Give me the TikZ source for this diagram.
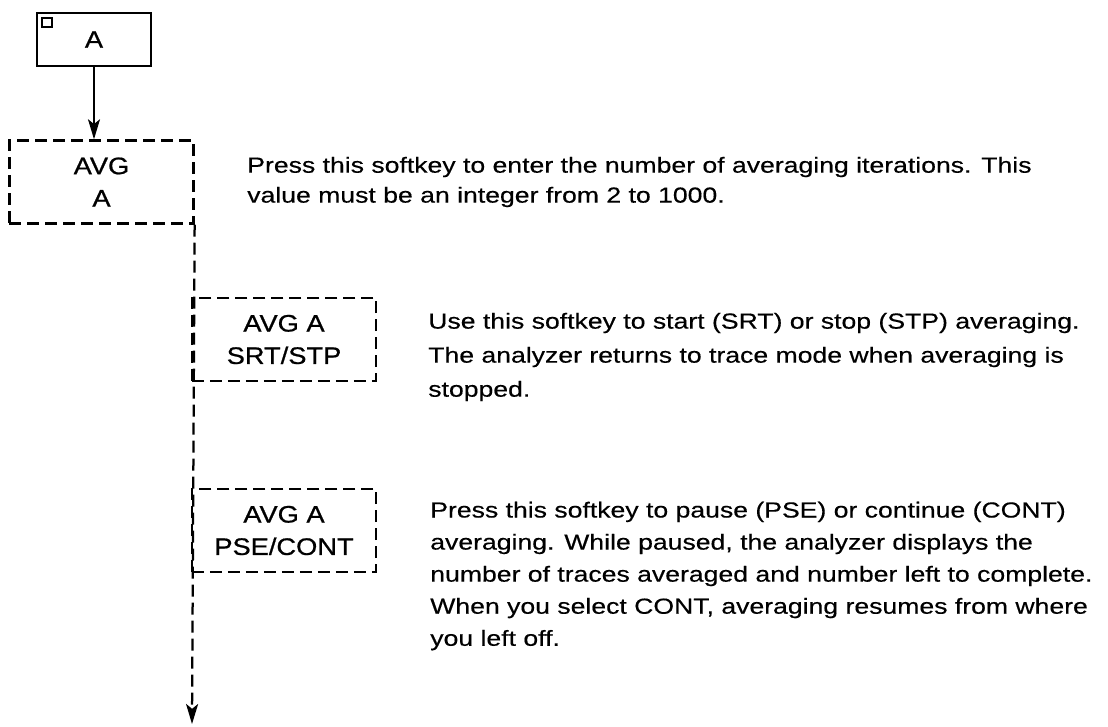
\documentclass[tikz,border=0pt]{standalone}
\usepackage{fontspec}
\setmainfont{Liberation Sans}
\newfontfamily\descfont{Liberation Sans}[FakeStretch=1.22,FakeBold=0.4]
\newfontfamily\keyfont{Liberation Sans}[FakeStretch=1.14,FakeBold=0.8]
\usetikzlibrary{arrows.meta,positioning}

\begin{document}
\begin{tikzpicture}[x=0.025cm,y=-0.025cm,
      font=\descfont\fontsize{15.5}{22.8}\selectfont,
      keybox/.style={draw,line width=1.9pt,minimum width=2.85cm,minimum height=1.325cm,inner sep=0pt,
                     font=\keyfont\fontsize{17}{24}\selectfont},
      softkey/.style={draw,dash pattern=on 8.5pt off 4.3pt,line width=1.6pt,align=center,
                      minimum width=4.6cm,minimum height=2.08cm,inner sep=0pt,
                      font=\keyfont\fontsize{17}{23}\selectfont},
      desc/.style={anchor=west,align=left,inner sep=0pt},
      arr/.style={-{Stealth[length=5mm,width=3mm,inset=1.2mm]},line width=1.3pt}]
    \useasboundingbox (0,0) rectangle (1108,726);
    % hardkey and its indicator
    \node[keybox] (akey) at (94,39.5) {A};
    \node[draw,line width=1.1pt,minimum width=0.25cm,minimum height=0.22cm,inner sep=0pt] (ind) at (47,22.5) {};
    % softkeys
    \node[softkey] (avg) at (101.5,182) {AVG\\A};
    \node[softkey] (srt) at (284,339.5) {AVG A\\SRT/STP};
    \node[softkey] (pse) at (284,530.5) {AVG A\\PSE/CONT};
    \coordinate (tend) at (192,724);
    % descriptions
    \node[desc,font=\descfont\fontsize{15.5}{21.3}\selectfont] (d1) at (247,182)
      {Press this softkey to enter the number of averaging iterations. This\\
      value must be an integer from 2 to 1000.};
    \node[desc,font=\descfont\fontsize{15.5}{24.2}\selectfont] (d2) at (428,357)
      {Use this softkey to start (SRT) or stop (STP) averaging.\\
      The analyzer returns to trace mode when averaging is\\stopped.};
    \node[desc] (d3) at (430,576) {Press this softkey to pause (PSE) or continue (CONT)\\
      averaging. While paused, the analyzer displays the\\
      number of traces averaged and number left to complete.\\
      When you select CONT, averaging resumes from where\\you left off.};
    % connectors
    \draw[arr] (akey.south) -- (akey.south |- avg.north);
    \draw[arr,line width=1.6pt,dash pattern=on 8.5pt off 4.3pt] (avg.south east) -- (tend);
  \end{tikzpicture}
\end{document}
